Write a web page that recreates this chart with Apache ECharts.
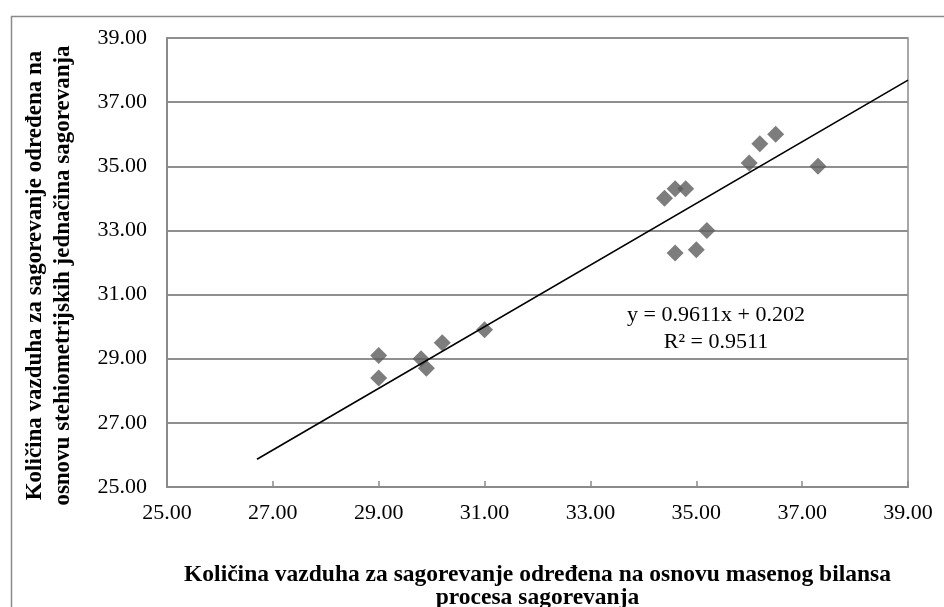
<!DOCTYPE html>
<html>
<head>
<meta charset="utf-8">
<script src="https://cdn.jsdelivr.net/npm/echarts@6/dist/echarts.min.js"></script>
<style>html,body{margin:0;padding:0;background:#fff}#c{width:944px;height:607px}</style>
</head>
<body>
<div id="c"></div>
<script>
// Data
var xValues = [29.0, 29.0, 29.8, 29.9, 30.2, 31.0, 34.4, 34.6, 34.8, 35.2, 34.6, 35.0, 36.0, 36.2, 36.5, 37.3];
var yValues = [29.1, 28.4, 29.0, 28.7, 29.5, 29.9, 34.0, 34.3, 34.3, 33.0, 32.3, 32.4, 35.1, 35.7, 36.0, 35.0];
var trendSlope = 0.9611;
var trendIntercept = 0.202;
var trendR2 = 0.9511;
var trendStartX = 26.7;
var trendEndX = 39;
var axisTicks = [25, 27, 29, 31, 33, 35, 37, 39];
var xTitle = 'Količina vazduha za sagorevanje određena na osnovu masenog bilansa\nprocesa sagorevanja';
var yTitle = 'Količina vazduha za sagorevanje određena na\nosnovu stehiometrijskih jednačina sagorevanja';

var points = xValues.map(function (x, i) { return [x, yValues[i]]; });
var trend = [trendStartX, trendEndX].map(function (x) { return [x, trendSlope * x + trendIntercept]; });

var font = '"Liberation Serif", "Times New Roman", serif';
var chart = echarts.init(document.getElementById('c'), null, {renderer: 'canvas'});
chart.setOption({
  animation: false,
  backgroundColor: '#fff',
  textStyle: {fontFamily: font},
  grid: {left: 167, right: 36, top: 38, bottom: 120, containLabel: false, outerBoundsMode: 'none',
         show: true, borderColor: '#8a8a8a', borderWidth: 1.5, backgroundColor: 'transparent'},
  xAxis: {
    type: 'value', min: axisTicks[0], max: axisTicks[axisTicks.length - 1], interval: 2,
    axisLine: {lineStyle: {color: '#8a8a8a', width: 2}},
    axisTick: {show: true, inside: true, length: 6, lineStyle: {color: '#8a8a8a', width: 1.5}},
    splitLine: {show: false},
    axisLabel: {color: '#000', fontFamily: font, fontSize: 22, margin: 15, formatter: function (v) { return v.toFixed(2); }},
    name: xTitle, nameLocation: 'middle', nameGap: 76,
    nameTextStyle: {color: '#000', fontFamily: font, fontSize: 23.5, fontWeight: 'bold', lineHeight: 23}
  },
  yAxis: {
    type: 'value', min: axisTicks[0], max: axisTicks[axisTicks.length - 1], interval: 2,
    axisLine: {show: true, lineStyle: {color: '#8a8a8a', width: 2}},
    axisTick: {show: false},
    splitLine: {show: true, lineStyle: {color: '#8f8f8f', width: 2}},
    axisLabel: {color: '#000', fontFamily: font, fontSize: 22, margin: 20, formatter: function (v) { return v.toFixed(2); }},
    name: yTitle, nameLocation: 'middle', nameGap: 90, nameRotate: 90,
    nameTextStyle: {color: '#000', fontFamily: font, fontSize: 23, fontWeight: 'bold', lineHeight: 28, padding: [0, 26, 0, 0]}
  },
  series: [
    {
      type: 'scatter', data: points, symbol: 'diamond', symbolSize: 17,
      itemStyle: {color: '#5c5c5c'}, z: 3
    },
    {
      type: 'line', data: trend, symbol: 'none', showSymbol: false,
      lineStyle: {color: '#000', width: 1.6}, z: 4
    }
  ],
  graphic: [
    {type: 'rect', left: 9, top: 14, shape: {width: 960, height: 620}, style: {fill: 'none', stroke: '#8a8a8a', lineWidth: 1.5}, silent: true, z: -1},
    {type: 'text', x: 716, y: 329, style: {text: 'y = ' + trendSlope + 'x + ' + trendIntercept + '\nR² = ' + trendR2, font: '22px ' + font, fill: '#000', align: 'center', verticalAlign: 'middle', lineHeight: 27}, z: 10}
  ]
});
</script>
</body>
</html>
